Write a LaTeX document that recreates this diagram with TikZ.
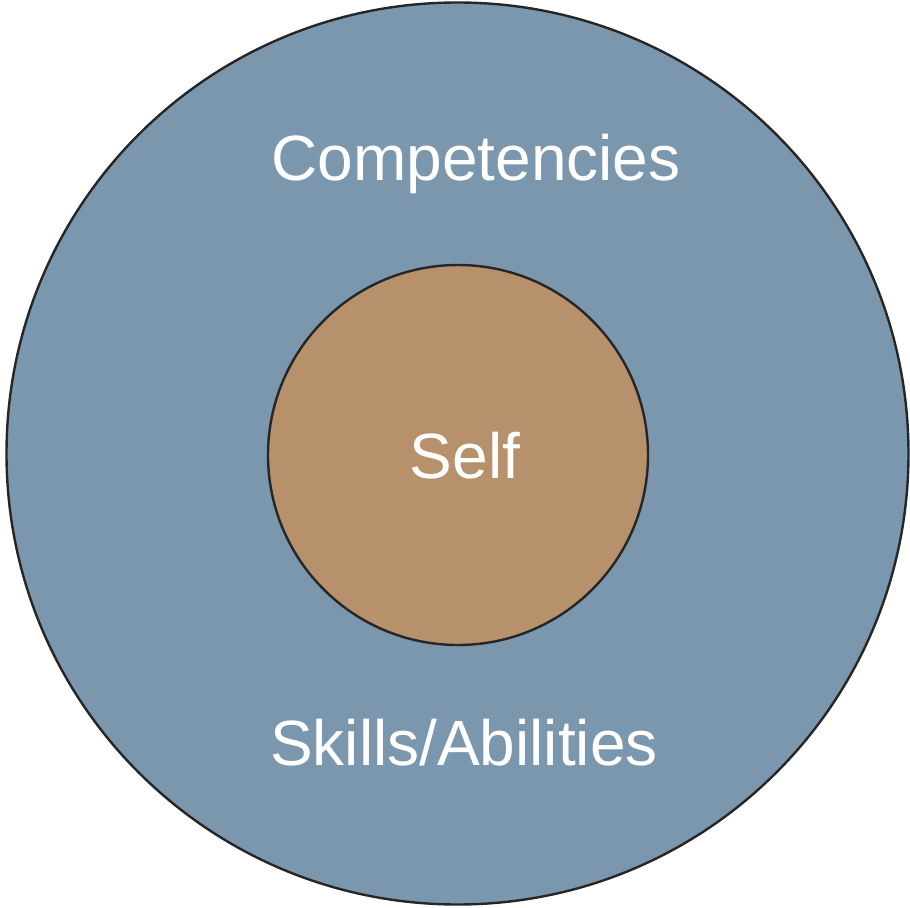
\documentclass[tikz,border=0pt]{standalone}
\usepackage{fontspec}
\setmainfont{Liberation Sans}
\usepackage{xcolor}
\usepackage{tikz}
\usetikzlibrary{positioning}

\definecolor{ringblue}{HTML}{7B97AD}
\definecolor{coretan}{HTML}{B6916B}

\begin{document}
\begin{tikzpicture}[x=0.5pt, y=0.5pt,
    ring/.style={circle, draw=black!85, line width=1.2pt, inner sep=0pt},
    label/.style={text=white, font=\fontsize{32}{38}\selectfont, anchor=base, inner sep=0pt}]
    \useasboundingbox (0,0) rectangle (910,907);

    \node[ring, fill=ringblue, minimum size=451pt] (outer) at (457.5,453.5) {};
    \node[ring, fill=coretan, minimum size=190pt] (core) at (458,452) {};

    \node[label] (comp) at (476,726) {Competencies};
    \node[label] (self) at (465,429) {Self};
    \node[label] (skills) at (464,142) {Skills/Abilities};
\end{tikzpicture}
\end{document}
